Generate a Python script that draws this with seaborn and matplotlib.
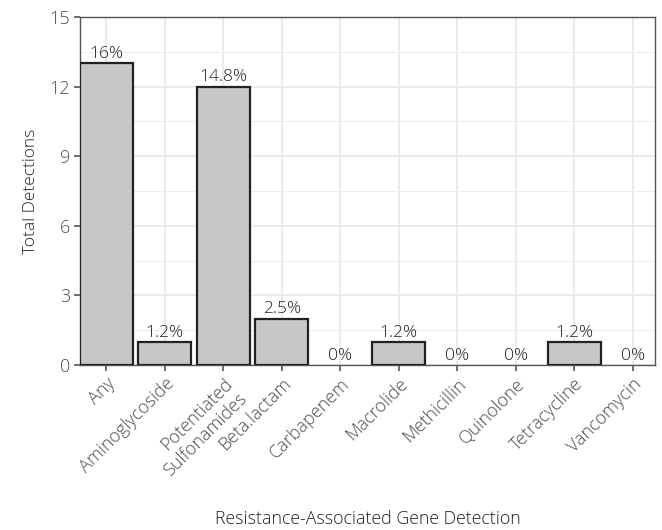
import matplotlib
matplotlib.use("Agg")
import matplotlib.pyplot as plt
import seaborn as sns
import pandas as pd
from matplotlib.ticker import MultipleLocator

# data
classes = ["Any", "Aminoglycoside", "Potentiated\nSulfonamides", "Beta.lactam",
           "Carbapenem", "Macrolide", "Methicillin", "Quinolone",
           "Tetracycline", "Vancomycin"]
detections = [13, 1, 12, 2, 0, 1, 0, 0, 1, 0]
pct_labels = ["16%", "1.2%", "14.8%", "2.5%", "0%", "1.2%", "0%", "0%", "1.2%", "0%"]

df = pd.DataFrame({"cls": classes, "n": detections, "lab": pct_labels})

sns.set_theme(style="whitegrid")
plt.rcParams['font.family'] = ['Open Sans', 'DejaVu Sans']

fig = plt.figure(figsize=(6.62, 5.3), dpi=100)
ax = fig.add_axes([80 / 662, (530 - 365) / 530, (655 - 80) / 662, (365 - 17) / 530])

sns.barplot(data=df, x="cls", y="n", color="#c6c7c9", edgecolor="#222222",
            linewidth=1.6, width=0.9, saturation=1, ax=ax, zorder=3)
# empty categories: no outline
for p in ax.patches:
    if p.get_height() == 0:
        p.set_linewidth(0)

for i, (v, lab) in enumerate(zip(detections, pct_labels)):
    ax.text(i, v + 0.05, lab, ha="center", va="bottom", fontsize=12.5,
            color="#222222", fontweight="light", zorder=4)

ax.set_ylim(0, 15)
ax.set_xlim(-0.45, 9.38)
ax.yaxis.set_major_locator(MultipleLocator(3))
ax.yaxis.set_minor_locator(MultipleLocator(1.5))
ax.grid(True, which="major", color="#e8e8e8", linewidth=1.2, zorder=0)
ax.grid(True, which="minor", axis="y", color="#ebebeb", linewidth=0.7, zorder=0)
ax.set_axisbelow(True)
ax.set_facecolor("white")

for s in ax.spines.values():
    s.set_color("#555555")
    s.set_linewidth(1.0)
    s.set_visible(True)

ax.tick_params(axis="both", which="major", length=4, width=1.2, color="#555555",
               labelsize=13, labelcolor="#4d4d4d", bottom=True, left=True, pad=3)
ax.tick_params(axis="y", which="minor", length=0)
plt.setp(ax.get_xticklabels(), rotation=45, ha="right", rotation_mode="anchor",
         fontweight="light")
plt.setp(ax.get_yticklabels(), fontweight="light")

ax.set_xlabel("Resistance-Associated Gene Detection", fontsize=12.8,
              color="#222222", fontweight="light", labelpad=22)
ax.set_ylabel("Total Detections", fontsize=12.5, color="#222222",
              fontweight="light", labelpad=8)

fig.savefig("out.png", dpi=100)
